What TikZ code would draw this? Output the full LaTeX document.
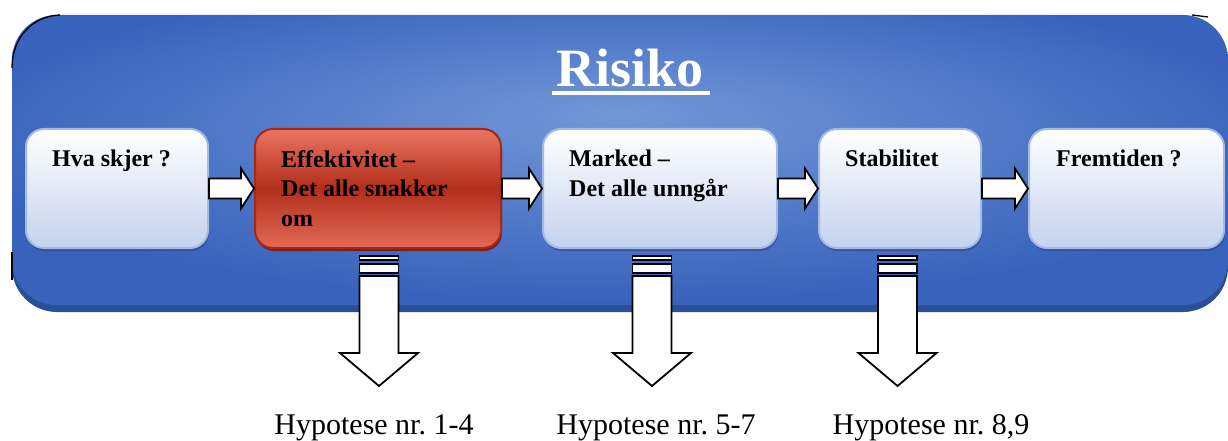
\documentclass[tikz,border=0pt]{standalone}
\usepackage{fontspec}
\setmainfont{Liberation Serif}
\usetikzlibrary{calc,shadows}
\definecolor{bgdark}{HTML}{3862BC}
\definecolor{bglight}{HTML}{7297D8}
\definecolor{bgedge}{HTML}{2B4E98}
\definecolor{boxbot}{HTML}{C4D2EE}
\definecolor{boxline}{HTML}{A3BAE4}
\definecolor{redtop}{HTML}{EA7562}
\definecolor{redbot}{HTML}{E26A56}
\definecolor{redmid}{HTML}{B22E1A}
\definecolor{redline}{HTML}{A82815}
\definecolor{shadowblue}{HTML}{2A4C94}
\pgfdeclareradialshading{bgshade}{\pgfpoint{0bp}{8bp}}{color(0bp)=(bglight); color(28bp)=(bgdark); color(50bp)=(bgdark)}
\newcommand{\myrarrow}[2]{%
  \draw[blockarr] ($(#1.east)+(0,-10)$) -- ($(#2.west)+(-13,-10)$) -- ($(#2.west)+(-13,-20)$) -- (#2.west)
    -- ($(#2.west)+(-13,20)$) -- ($(#2.west)+(-13,10)$) -- ($(#1.east)+(0,10)$) -- cycle;}
\newcommand{\mydarrow}[2]{%
  \begin{scope}[shift={($(#1.south)+(#2,0)$)}]
    \draw[blockarr] (-19.5,7) rectangle (19.5,11);
    \draw[blockarr] (-19.5,15) rectangle (19.5,24);
    \draw[blockarr] (-19.5,27) -- (-19.5,104) -- (-39,104) -- (0,137) -- (39,104) -- (19.5,104) -- (19.5,27) -- cycle;
  \end{scope}}
\begin{document}
\frenchspacing
\begin{tikzpicture}[x=1pt,y=-1pt,
  whitebox/.style={draw=boxline, top color=white, bottom color=boxbot, rounded corners=18pt,
    minimum height=119pt, anchor=north west, inner sep=0pt, line width=2pt,
    drop shadow={shadow xshift=1pt, shadow yshift=-3pt, fill=shadowblue, opacity=0.7}},
  redbox/.style={draw=redline, top color=redtop, bottom color=redbot, middle color=redmid, rounded corners=18pt,
    minimum height=119pt, anchor=north west, inner sep=0pt, line width=2pt,
    drop shadow={shadow xshift=1pt, shadow yshift=-3pt, fill=redline!70!black, opacity=0.9}},
  blockarr/.style={draw=black, fill=white, line width=1.8pt, line join=miter},
  boxtext/.style={font=\bfseries\fontsize{24}{29.5}\selectfont, align=left, anchor=north west, inner sep=0pt},
  hyp/.style={font=\frenchspacing\fontsize{30}{36}\selectfont, anchor=base, inner sep=0pt}]
\useasboundingbox (0,0) rectangle (1228,441);
% background panel
\fill[bgedge, rounded corners=45pt] (12,22) rectangle (1228,312);
\shade[shading=bgshade, rounded corners=45pt] (12,15) rectangle (1228,305);
\draw[black, line width=1.3pt] (12,68) .. controls (12,38) and (32,16) .. (60,15);
\draw[black, line width=1.3pt] (12,252) -- (12,280);
\draw[black, line width=1.3pt] (1192,15) -- (1208,17);
% title
\node[font=\bfseries\fontsize{54}{60}\selectfont, text=white, anchor=base, inner sep=0pt] (title) at (630,87) {Risiko};
\draw[white, line width=3.5pt] ($(title.base west)+(-4,6)$) -- ($(title.base east)+(6,6)$);
% boxes
\node[whitebox, minimum width=182pt] (b1) at (25,128) {};
\node[redbox, minimum width=246pt] (b2) at (254,128) {};
\node[whitebox, minimum width=234pt] (b3) at (542,128) {};
\node[whitebox, minimum width=162pt] (b4) at (818,128) {};
\node[whitebox, minimum width=195pt] (b5) at (1028,128) {};
\node[boxtext] (t1) at ($(b1.north west)+(27,22)$) {Hva skjer ?};
\node[boxtext] (t2) at ($(b2.north west)+(27,22)$) {Effektivitet –\\Det alle snakker\\om};
\node[boxtext] (t3) at ($(b3.north west)+(27,22)$) {Marked –\\Det alle unngår};
\node[boxtext] (t4) at ($(b4.north west)+(27,22)$) {Stabilitet};
\node[boxtext] (t5) at ($(b5.north west)+(28,22)$) {Fremtiden ?};
% right arrows
\myrarrow{b1}{b2}
\myrarrow{b2}{b3}
\myrarrow{b3}{b4}
\myrarrow{b4}{b5}
% down arrows
\mydarrow{b2}{1}
\mydarrow{b3}{-8}
\mydarrow{b4}{-2.5}
% labels
\node[hyp] (h1) at (374,434) {Hypotese nr. 1-4};
\node[hyp] (h2) at (656,434) {Hypotese nr. 5-7};
\node[hyp] (h3) at (931,434) {Hypotese nr. 8,9};
\end{tikzpicture}
\end{document}
